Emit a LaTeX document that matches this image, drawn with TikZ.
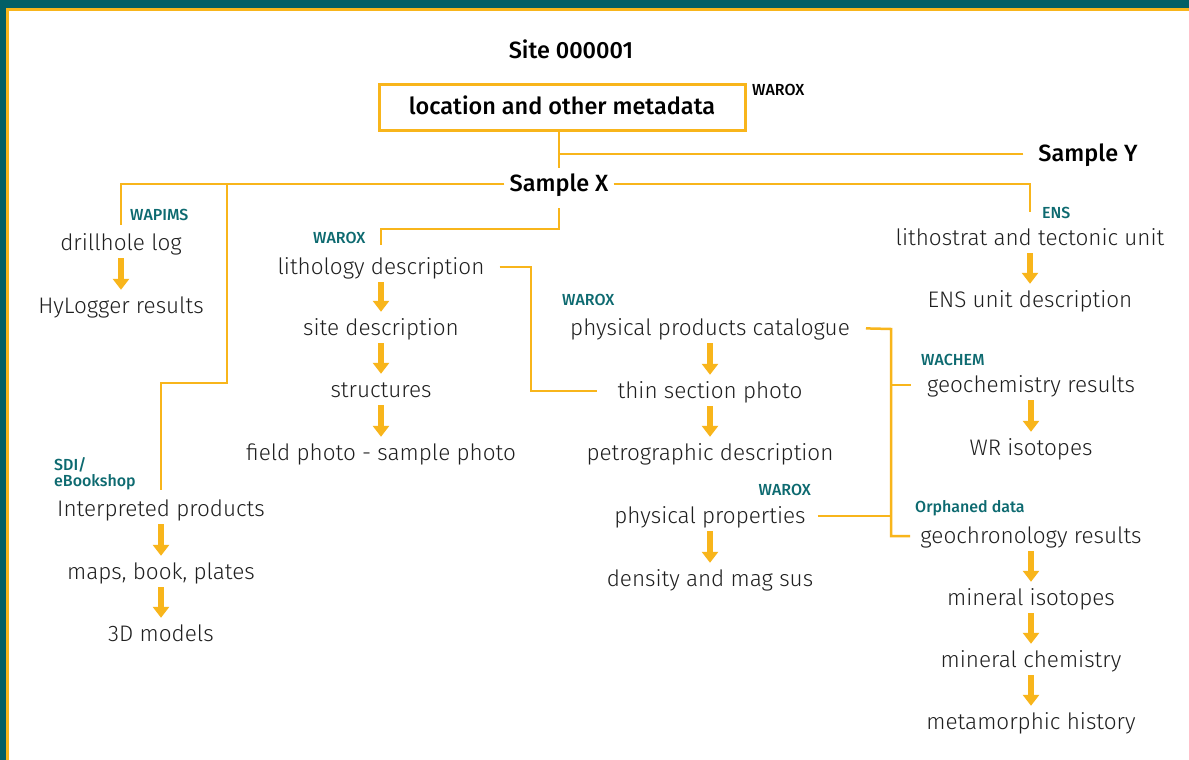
\documentclass[tikz,border=0pt]{standalone}
\usepackage{fontspec}
\setmainfont{Fira Sans}[UprightFont=* Light,BoldFont=* Medium]
\usetikzlibrary{arrows.meta}
\definecolor{frameteal}{HTML}{035F66}
\definecolor{tagteal}{HTML}{0D6A70}
\definecolor{gold}{HTML}{F8B51B}
\tikzset{
	lbl/.style={font=\fontsize{22.5}{27}\selectfont,text=black!88,inner sep=0pt,text height=18pt,text depth=4pt},
	hdr/.style={font=\fontsize{23.5}{28}\selectfont\bfseries,text=black,inner xsep=5pt,inner ysep=0pt,text height=18pt,text depth=4pt},
	tag/.style={font=\fontsize{16}{19}\selectfont\bfseries,text=tagteal,inner sep=0pt,anchor=west,align=left},
	link/.style={draw=gold,line width=2.5pt},
	flow/.style={draw=gold,line width=5.5pt,-{Triangle[width=16pt,length=11pt]},shorten <=4pt,shorten >=5pt}
}
\begin{document}
\begin{tikzpicture}[x=1pt,y=-1pt]
	\useasboundingbox(0,0)rectangle(1189,760);
	%frame
	\fill[frameteal](0,0)rectangle(1189,760);
	\fill[gold](6,8)rectangle(1189,760);
	\fill[white](9,11)rectangle(1189,760);
	%kinks of the connectors
	\coordinate(kinkL)at(227,383);
	\coordinate(kinkT)at(531,267);
	\coordinate(brTop)at(891,329);
	%top
	\node[hdr](site0)at(571,52){Site 000001};
	\node[hdr,draw=gold,line width=3pt,minimum width=366pt,minimum height=45pt](meta)at(562,107.5){location and other metadata};
	\node[tag,text=black](waroxmeta)at(752,90){WAROX};
	\node[hdr](sx)at(559,184){Sample X};
	\node[hdr](sy)at(1088,154){Sample Y};
	%left
	\node[lbl](drill)at(121,243){drillhole log};
	\node[lbl](hylog)at(121,306){HyLogger results};
	\node[lbl](interp)at(161,509){Interpreted products};
	\node[lbl](maps)at(161,572){maps, book, plates};
	\node[lbl](models)at(161,634){3D models};
	\node[tag](wapims)at(130,215){WAPIMS};
	\node[tag](sdi)at(54,473.5){SDI/\\[-3pt]eBookshop};
	%lithology
	\node[lbl](litho)at(381,267){lithology description};
	\node[lbl](site)at(381,328){site description};
	\node[lbl](struct)at(381,390){structures};
	\node[lbl](photo)at(381,453){field photo - sample photo};
	\node[tag](waroxlitho)at(313,238){WAROX};
	%products
	\node[lbl](cat)at(710,328){physical products catalogue};
	\node[lbl](thin)at(710,391){thin section photo};
	\node[lbl](petro)at(710,453){petrographic description};
	\node[lbl](props)at(710,516){physical properties};
	\node[lbl](dens)at(710,579){density and mag sus};
	\node[tag](waroxcat)at(562,300){WAROX};
	\node[tag,anchor=east](waroxprops)at(811,490){WAROX};
	%right
	\node[lbl](lith2)at(1030,238){lithostrat and tectonic unit};
	\node[lbl](ensdesc)at(1030,300){ENS unit description};
	\node[lbl](geochem)at(1031,385){geochemistry results};
	\node[lbl](wr)at(1031,448){WR isotopes};
	\node[lbl](geochr)at(1031,536){geochronology results};
	\node[lbl](minis)at(1031,598){mineral isotopes};
	\node[lbl](minch)at(1031,660){mineral chemistry};
	\node[lbl](metam)at(1031,722){metamorphic history};
	\node[tag](ens)at(1042,213){ENS};
	\node[tag](wachem)at(921,360){WACHEM};
	\node[tag](orphan)at(915,508){Orphaned data};
	%connectors
	\draw[link](meta.south-|sx)--++(0,36);
	\draw[link,shorten <=10pt](sy.west)--(sy.west-|sx);
	\draw[link,shorten >=7pt](sx.west)-|(drill.north);
	\draw[link,shorten >=8pt](kinkL|-sx)--(kinkL)-|(interp.north);
	\draw[link,shorten <=13pt,shorten >=11pt](sx.south)--++(0,34)-|(litho.north);
	\draw[link,shorten >=15pt](sx.east)-|(lith2.north);
	\draw[link,shorten <=15pt,shorten >=20pt](litho.east)--(kinkT)|-(thin.west);
	\draw[link,shorten <=16pt,shorten >=10pt](cat.east)--(brTop)|-(geochr.west);
	\draw[link,shorten >=16pt](brTop|-geochem)--(geochem.west);
	\draw[link,shorten <=12pt](props.east)--(props.east-|brTop);
	\foreach\a/\b in{drill/hylog,interp/maps,maps/models,litho/site,site/struct,struct/photo,cat/thin,thin/petro,props/dens,lith2/ensdesc,geochem/wr,geochr/minis,minis/minch,minch/metam}{\draw[flow](\a)--(\b);}
\end{tikzpicture}
\end{document}
